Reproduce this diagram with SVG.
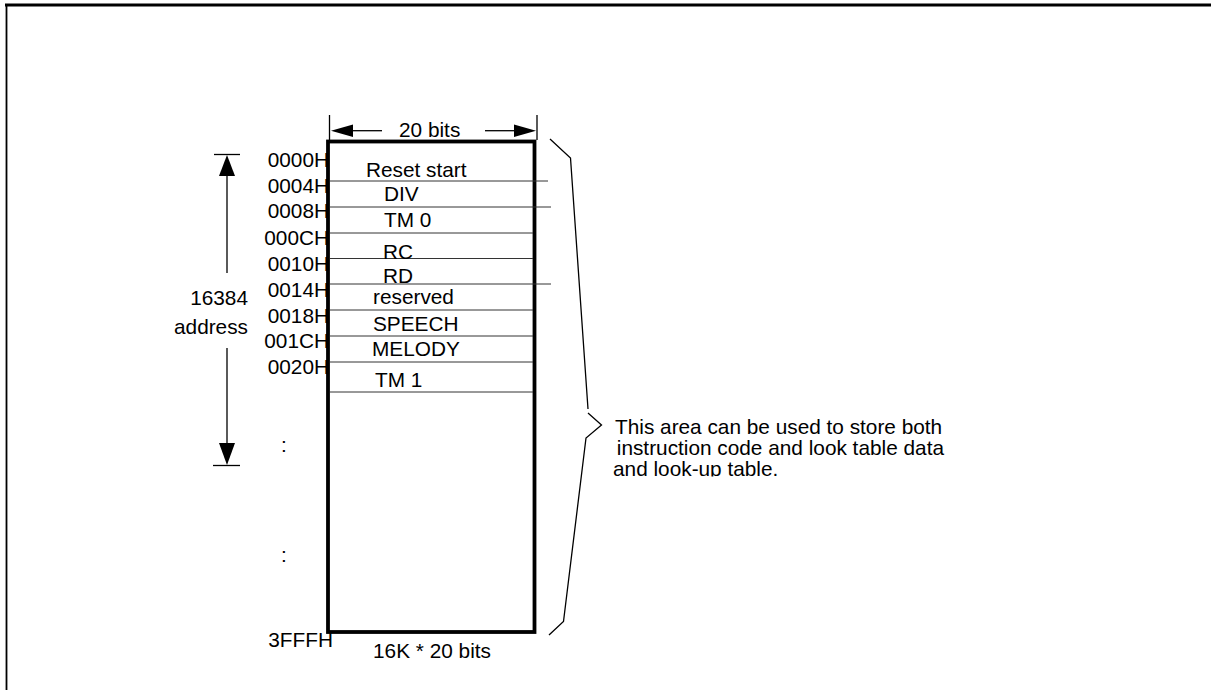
<svg xmlns="http://www.w3.org/2000/svg" width="1211" height="690" viewBox="0 0 1211 690">
<style>
text{font-family:"Liberation Sans",Arial,sans-serif;font-size:20.8px;fill:#000}
.addr{text-anchor:end}
.row{stroke:#333;stroke-width:1;fill:none}
.thin{stroke:#000;stroke-width:1.3;fill:none}
</style>
<defs>
<clipPath id="noteclip"><rect x="590" y="400" width="400" height="76.5"/></clipPath>
</defs>
<rect width="1211" height="690" fill="#fff"/>
<g id="frame">
<line x1="5" y1="5" x2="1211" y2="5" stroke="#000" stroke-width="3"/>
<line x1="6.5" y1="4" x2="6.5" y2="690" stroke="#000" stroke-width="1.8"/>
</g>
<g id="memory">
<rect x="328" y="141.5" width="206.5" height="490.5" fill="none" stroke="#000" stroke-width="3.8"/>
<g id="rows">
<line class="row" x1="330" y1="181" x2="548" y2="181"/>
<line class="row" x1="330" y1="207" x2="551" y2="207"/>
<line class="row" x1="330" y1="233" x2="533" y2="233"/>
<line class="row" x1="330" y1="258.5" x2="533" y2="258.5"/>
<line class="row" x1="330" y1="284" x2="551" y2="284"/>
<line class="row" x1="330" y1="310" x2="533" y2="310"/>
<line class="row" x1="330" y1="336" x2="533" y2="336"/>
<line class="row" x1="330" y1="362" x2="533" y2="362"/>
<line class="row" x1="330" y1="392" x2="533" y2="392"/>
</g>
<g id="row-labels">
<text x="366" y="177">Reset start</text>
<text x="384" y="201">DIV</text>
<text x="384" y="227">TM 0</text>
<text x="383" y="259">RC</text>
<text x="383" y="283">RD</text>
<text x="373" y="304">reserved</text>
<text x="373" y="331">SPEECH</text>
<text x="372" y="356">MELODY</text>
<text x="375" y="387">TM 1</text>
</g>
<g id="addresses">
<text class="addr" x="329" y="167">0000H</text>
<text class="addr" x="329" y="193">0004H</text>
<text class="addr" x="329" y="218">0008H</text>
<text class="addr" x="329" y="245">000CH</text>
<text class="addr" x="329" y="271">0010H</text>
<text class="addr" x="329" y="297">0014H</text>
<text class="addr" x="329" y="323">0018H</text>
<text class="addr" x="329" y="348">001CH</text>
<text class="addr" x="329" y="374">0020H</text>
<text x="281" y="452">:</text>
<text x="281" y="562">:</text>
<text class="addr" x="333" y="647">3FFFH</text>
</g>
<text x="373" y="658">16K * 20 bits</text>
</g>
<g id="connectors">
<g id="width-dim">
<line class="thin" x1="329.5" y1="115" x2="329.5" y2="140"/>
<line class="thin" x1="537" y1="115" x2="537" y2="140"/>
<line class="thin" x1="350" y1="130.7" x2="382" y2="130.7"/>
<line class="thin" x1="485" y1="130.7" x2="516" y2="130.7"/>
<polygon points="331,130.7 353,124.5 353,137" fill="#000"/>
<polygon points="536,130.7 514,124.5 514,137" fill="#000"/>
<text x="399" y="137">20 bits</text>
</g>
<g id="address-dim">
<line class="thin" x1="214" y1="154.5" x2="240" y2="154.5"/>
<polygon points="227,155 219,176 235,176" fill="#000"/>
<line class="thin" x1="227" y1="175" x2="227" y2="273"/>
<line class="thin" x1="227" y1="348" x2="227" y2="445"/>
<polygon points="227,465 219,443 235,443" fill="#000"/>
<line class="thin" x1="213" y1="465.5" x2="240" y2="465.5"/>
<text class="addr" x="248" y="305">16384</text>
<text class="addr" x="248" y="334">address</text>
</g>
<g id="brace">
<polyline class="thin" points="550,139 570.5,158 588,409"/>
<polyline class="thin" points="588,413 601.5,425 586,438 563.5,621.5 549,635"/>
</g>
</g>
<g id="note" clip-path="url(#noteclip)">
<text x="615" y="434">This area can be used to store both</text>
<text x="611" y="455" xml:space="preserve"> instruction code and look table data</text>
<text x="613" y="476">and look-up table.</text>
</g>
</svg>
